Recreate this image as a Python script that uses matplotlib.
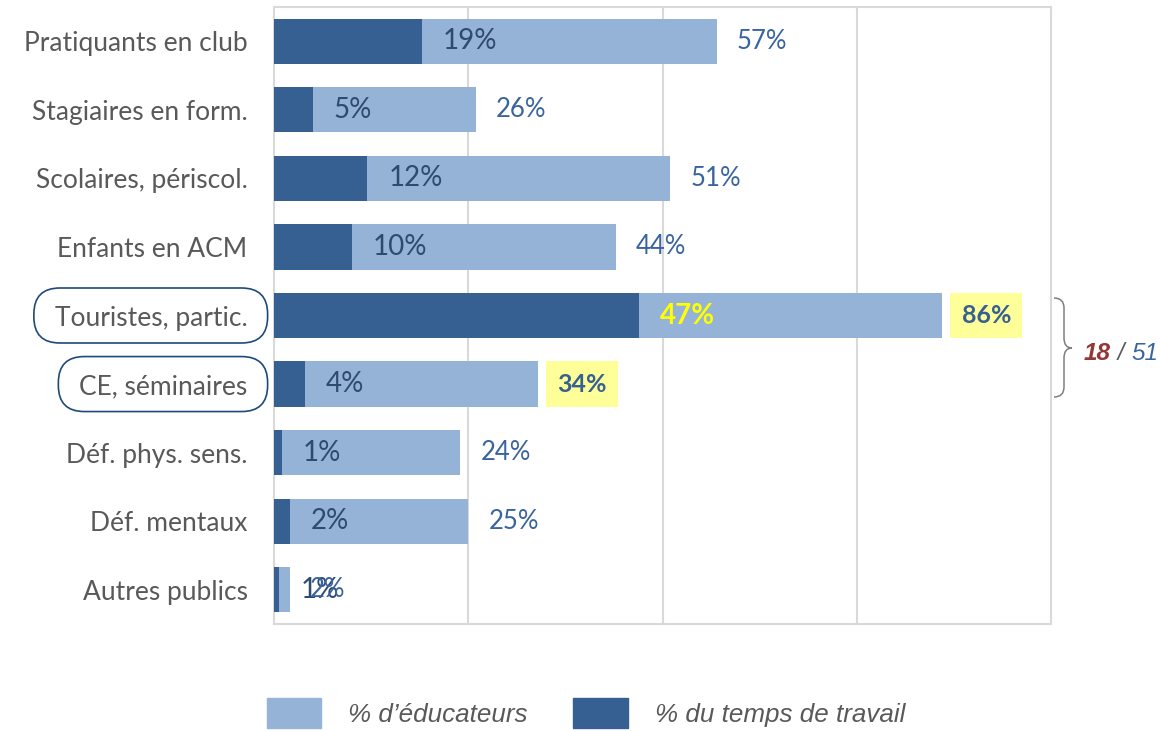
"""Horizontal overlapping bars: share of educators vs share of working time per public."""

import matplotlib

matplotlib.use("Agg")
import matplotlib.pyplot as plt
import matplotlib.transforms as mtransforms
from matplotlib.patches import FancyBboxPatch, Patch, PathPatch
from matplotlib.path import Path

categories = [
    "Pratiquants en club",
    "Stagiaires en form.",
    "Scolaires, périscol.",
    "Enfants en ACM",
    "Touristes, partic.",
    "CE, séminaires",
    "Déf. phys. sens.",
    "Déf. mentaux",
    "Autres publics",
]
educateurs = [57, 26, 51, 44, 86, 34, 24, 25, 2]
temps_travail = [19, 5, 12, 10, 47, 4, 1, 2, 0.7]
highlighted = ["Touristes, partic.", "CE, séminaires"]
highlighted_temps = ["Touristes, partic."]
brace_parts = ["18", " / ", "51"]

LIGHT = "#95b3d7"
DARK = "#366092"
INNER_TEXT = "#2e4a6e"
OUTER_TEXT = "#3a64a0"
GREY_TEXT = "#595959"
GRID = "#d9d9d9"
YELLOW = "#ffff99"

W, H = 1160, 731
fig = plt.figure(figsize=(W / 100, H / 100), dpi=100)
ax = fig.add_axes([274 / W, 1 - 624 / H, 777 / W, 617 / H])

rows = list(range(len(categories)))
ax.barh(rows, educateurs, height=0.66, color=LIGHT, zorder=2)
ax.barh(rows, temps_travail, height=0.66, color=DARK, zorder=3)

for i, cat in enumerate(categories):
    t, e = temps_travail[i], educateurs[i]
    hot_t = cat in highlighted_temps
    ax.text(t + 2.7, i, f"{t:.0f}%", ha="left", va="center", zorder=5,
            family="Lato", fontsize=20 if hot_t else 20,
            color="#ffff00" if hot_t else INNER_TEXT,
            fontweight="bold" if hot_t else "normal")
    if cat in highlighted:
        ax.text(e + 2.5, i, f"{e:.0f}%", ha="left", va="center", zorder=5,
                family="Lato", fontsize=18, fontweight="bold", color=DARK,
                bbox=dict(boxstyle="square,pad=0.45", fc=YELLOW, ec="none"))
    else:
        ax.text(e + 2.6, i, f"{e:.0f}%", ha="left", va="center", zorder=5,
                family="Lato", fontsize=18.5, color=OUTER_TEXT)

ax.set_xlim(0, 100)
ax.set_ylim(len(categories) - 0.5, -0.5)
ax.set_xticks([25, 50, 75])
ax.set_xticklabels([])
ax.set_yticks(rows)
ax.set_yticklabels(categories, family="Lato", fontsize=19, color=GREY_TEXT)
ax.tick_params(length=0, axis="y", pad=19)
ax.tick_params(length=0, axis="x")
ax.set_axisbelow(True)
ax.grid(axis="x", color=GRID, linewidth=1.5)
for spine in ax.spines.values():
    spine.set_color(GRID)
    spine.set_linewidth(1.5)

# pixel coordinates measured from the top-left corner of the figure
px = mtransforms.Affine2D().scale(1 / W, -1 / H).translate(0, 1) + fig.transFigure

fig.canvas.draw()
for label, i in zip(ax.get_yticklabels(), rows):
    if label.get_text() not in highlighted:
        continue
    bb = label.get_window_extent()
    yc = ax.transData.transform((0, i))[1]
    box = FancyBboxPatch((bb.x0 - 21, yc - 27.5), bb.width + 41, 55,
                         boxstyle="round,pad=0,rounding_size=26",
                         fc="none", ec="#1f497d", lw=1.2, transform=None)
    fig.patches.append(box)

# curly brace grouping the two highlighted rows
brace = Path(
    [(1054, 298), (1064, 298), (1064, 308), (1064, 338), (1064, 348), (1072, 348),
     (1064, 348), (1064, 358), (1064, 387), (1064, 397), (1054, 397)],
    [Path.MOVETO, Path.CURVE3, Path.CURVE3, Path.LINETO, Path.CURVE3, Path.CURVE3,
     Path.CURVE3, Path.CURVE3, Path.LINETO, Path.CURVE3, Path.CURVE3],
)
fig.patches.append(PathPatch(brace, fc="none", ec="#7f7f7f", lw=1.1, transform=px))

brace_font = {"family": "Liberation Sans", "fontsize": 17.5, "style": "italic"}
t1 = fig.text(1084, 360, brace_parts[0], transform=px, ha="left", va="baseline",
              fontweight="bold", color="#953735", **brace_font)
fig.canvas.draw()
b1 = t1.get_window_extent()
t2 = fig.text(b1.x1, b1.y0, brace_parts[1], transform=mtransforms.IdentityTransform(),
              ha="left", va="bottom", color=GREY_TEXT, **brace_font)
fig.canvas.draw()
b2 = t2.get_window_extent()
fig.text(b2.x1, b1.y0, brace_parts[2], transform=mtransforms.IdentityTransform(),
         ha="left", va="bottom", color=OUTER_TEXT, **brace_font)

handles = [Patch(color=LIGHT, label="% d’éducateurs"),
           Patch(color=DARK, label="% du temps de travail")]
fig.legend(handles=handles, loc="center", bbox_to_anchor=(586 / W, 1 - 713 / H),
           ncol=2, frameon=False, handlelength=2.1, handleheight=1.45,
           handletextpad=1.05, columnspacing=1.75,
           prop={"family": "Liberation Sans", "size": 18.7, "style": "italic"},
           labelcolor=GREY_TEXT)

fig.savefig("out.png", dpi=100)
